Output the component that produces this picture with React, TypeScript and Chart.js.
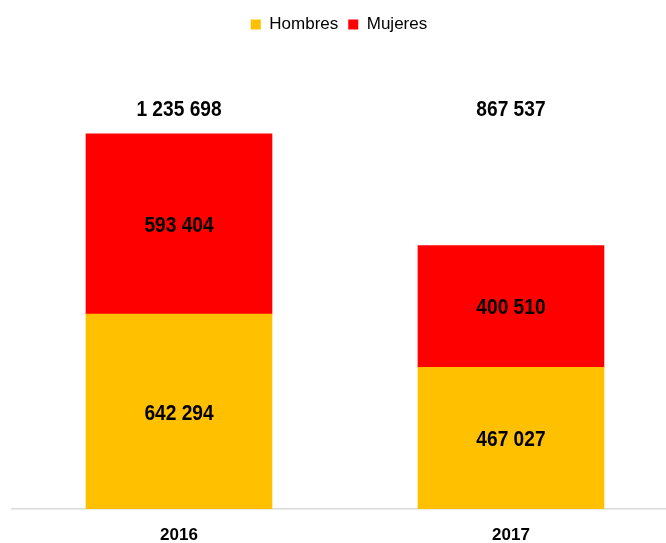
import React, { useEffect, useRef } from "react";
import { Chart, registerables } from "chart.js";

Chart.register(...registerables);

const categories = ["2016", "2017"];
const hombres = [642294, 467027];
const mujeres = [593404, 400510];
const totals = [1235698, 867537];
const seriesNames = ["Hombres", "Mujeres"];
const colors = ["#FFC000", "#FF0000"];
const yMax = 1535000;
const totalLabelAnchor = 1322000;

const fmt = (v: number) => String(v).replace(/\B(?=(\d{3})+(?!\d))/g, " ");

const LABEL_FONT = "bold 22px 'Liberation Sans', Arial, sans-serif";
const SQUEEZE = 0.87;

const drawSqueezed = (ctx: any, text: string, x: number, y: number) => {
  ctx.save();
  ctx.translate(x, y + 2);
  ctx.scale(SQUEEZE, 1);
  ctx.fillText(text, 0, 0);
  ctx.restore();
};

const labelsPlugin = {
  id: "valueLabels",
  afterDatasetsDraw(chart: any) {
    const ctx = chart.ctx;
    ctx.save();
    ctx.font = LABEL_FONT;
    ctx.fillStyle = "#000";
    ctx.textAlign = "center";
    ctx.textBaseline = "middle";
    chart.data.datasets.forEach((ds: any, di: number) => {
      const meta = chart.getDatasetMeta(di);
      meta.data.forEach((bar: any, i: number) => {
        const top = Math.min(bar.y, bar.base);
        const bottom = Math.max(bar.y, bar.base);
        drawSqueezed(ctx, fmt(ds.data[i].y), bar.x, (top + bottom) / 2);
      });
    });
    const yScale = chart.scales.y;
    const xScale = chart.scales.x;
    totals.forEach((t, i) => {
      drawSqueezed(ctx, fmt(t), xScale.getPixelForValue(i), yScale.getPixelForValue(totalLabelAnchor));
    });
    ctx.restore();
  },
};

export default function App() {
  const ref = useRef<HTMLCanvasElement>(null);
  useEffect(() => {
    if (!ref.current) return;
    const chart = new Chart(ref.current, {
      type: "bar",
      data: {
        datasets: [
          {
            label: seriesNames[0],
            data: hombres.map((v, i) => ({ x: i, y: v })),
            backgroundColor: colors[0],
            barThickness: 186,
          },
          {
            label: seriesNames[1],
            data: mujeres.map((v, i) => ({ x: i, y: v })),
            backgroundColor: colors[1],
            barThickness: 186,
          },
        ],
      },
      options: {
        responsive: false,
        animation: false,
        layout: { padding: { left: 12, right: 0, top: 6, bottom: 0 } },
        plugins: {
          legend: {
            position: "top",
            labels: {
              boxWidth: 10,
              boxHeight: 10,
              color: "#000",
              padding: 10,
              font: { size: 17, family: "'Liberation Sans', Arial, sans-serif" },
            },
          },
          tooltip: { enabled: false },
        },
        scales: {
          x: {
            type: "linear",
            stacked: true,
            offset: false,
            min: -0.503,
            max: 1.467,
            afterBuildTicks: (scale: any) => {
              scale.ticks = categories.map((_, i) => ({ value: i }));
            },
            afterFit: (scale: any) => {
              scale.height = 34;
            },
            ticks: {
              callback: (v: any) => categories[v] ?? "",
              color: "#000",
              padding: 16,
              font: { size: 17, weight: "bold", family: "'Liberation Sans', Arial, sans-serif" },
            },
            grid: { display: false, drawTicks: false },
            border: { display: true, color: "#D9D9D9", width: 1.5 },
          },
          y: {
            stacked: true,
            display: false,
            min: 0,
            max: yMax,
          },
        },
      },
      plugins: [labelsPlugin],
    } as any);
    return () => chart.destroy();
  }, []);
  return (
    <div style={{ position: "absolute", left: 0, top: 0, width: 666, height: 543, background: "#fff" }}>
      <canvas ref={ref} width={666} height={543} />
    </div>
  );
}
